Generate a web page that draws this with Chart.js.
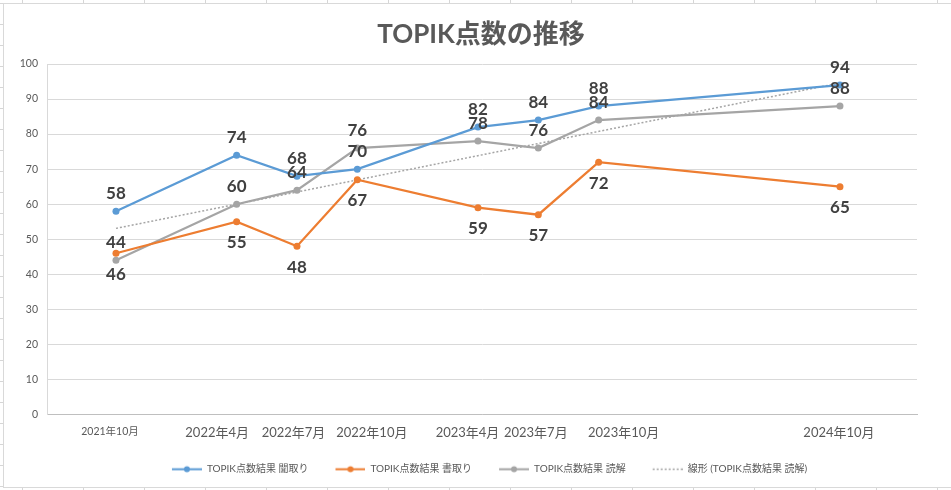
<!DOCTYPE html>
<html>
<head>
<meta charset="utf-8">
<script src="https://cdn.jsdelivr.net/npm/chart.js@4/dist/chart.umd.min.js"></script>
<style>
  html, body { margin: 0; padding: 0; }
  body {
    width: 951px; height: 490px; overflow: hidden; position: relative;
    background-color: #ffffff;
    background-image:
      linear-gradient(to right, #d6d6d6 1px, transparent 1px),
      linear-gradient(to bottom, #d6d6d6 1px, transparent 1px);
    background-size: 61px 21px;
    background-position: 22px 3px;
  }
  #frame {
    position: absolute; left: 3px; top: 3px; width: 1000px; height: 485px;
    box-sizing: border-box; border: 1px solid #d9d9d9; background: #ffffff;
  }
  #wrap { position: absolute; left: 0; top: 0; width: 951px; height: 490px; }
</style>
</head>
<body>
<div id="frame"></div>
<div id="wrap"><canvas id="c"></canvas></div>
<script>
// ---- data ----
const titleText = 'TOPIK点数の推移';
const dateLabels = ['2021年10月', '2022年4月', '2022年7月', '2022年10月', '2023年4月', '2023年7月', '2023年10月', '2024年10月'];
const monthIndex = [0, 6, 9, 12, 18, 21, 24, 36];   // months since 2021年10月
const listening = [58, 74, 68, 70, 82, 84, 88, 94];  // 聞取り
const writing   = [46, 55, 48, 67, 59, 57, 72, 65];  // 書取り
const reading   = [44, 60, 64, 76, 78, 76, 84, 88];  // 読解
const trendMonths = [0, 36];
const trendValues = [53.1, 94.6];                   // 線形 (読解) endpoints
const seriesNames = ['TOPIK点数結果 聞取り', 'TOPIK点数結果 書取り', 'TOPIK点数結果 読解', '線形 (TOPIK点数結果 読解)'];
const yMin = 0, yMax = 100, yStep = 10;

// ---- layout / style ----
const BLUE = '#5B9BD5', ORANGE = '#ED7D31', GRAY = '#A5A5A5';
const FONT = "Lato, 'Noto Sans CJK JP', sans-serif";
const PX_PER_MONTH = 20.11;
// horizontal nudge (px) of each date label, as laid out in the original
const labelNudgePx = [-6, -19.5, -3.5, 14.5, -10.5, -2.5, 25, -1];
const ICON_GAP = 17;   // extra blank space in front of each legend icon

function pts(xs, ys) { return xs.map((x, i) => ({ x: x, y: ys[i] })); }

function legendIcon(color, dotted) {
  const c = document.createElement('canvas');
  c.width = 30 + ICON_GAP; c.height = 9;
  const g = c.getContext('2d');
  g.strokeStyle = color;
  g.lineWidth = dotted ? 1.5 : 2;
  if (dotted) g.setLineDash([2, 2]);
  g.beginPath(); g.moveTo(ICON_GAP, 4.5); g.lineTo(ICON_GAP + 30, 4.5); g.stroke();
  if (!dotted) {
    g.fillStyle = color;
    g.beginPath(); g.arc(ICON_GAP + 15, 4.5, 3, 0, Math.PI * 2); g.fill();
  }
  return c;
}
const icons = [legendIcon(BLUE, false), legendIcon(ORANGE, false), legendIcon(GRAY, false), legendIcon(GRAY, true)];

const dataLabelPlugin = {
  id: 'dataLabels',
  afterDatasetsDraw(chart) {
    const ctx = chart.ctx;
    ctx.save();
    ctx.font = 'bold 17px ' + FONT;
    ctx.fillStyle = '#404040';
    ctx.textAlign = 'center';
    ctx.textBaseline = 'middle';
    chart.data.datasets.forEach((ds, i) => {
      if (!ds.labelPos) return;
      const meta = chart.getDatasetMeta(i);
      meta.data.forEach((el, j) => {
        const v = ds.data[j].y;
        const dy = ds.labelPos === 'above' ? -18 : 21;
        ctx.fillText(String(v), el.x, el.y + dy);
      });
    });
    ctx.restore();
  }
};

Chart.defaults.font.family = FONT;

new Chart(document.getElementById('c'), {
  type: 'line',
  data: {
    datasets: [
      { label: seriesNames[0], data: pts(monthIndex, listening), borderColor: BLUE, backgroundColor: BLUE,
        borderWidth: 2.25, pointRadius: 3.5, pointBorderWidth: 0, labelPos: 'above' },
      { label: seriesNames[1], data: pts(monthIndex, writing), borderColor: ORANGE, backgroundColor: ORANGE,
        borderWidth: 2.25, pointRadius: 3.5, pointBorderWidth: 0, labelPos: 'below' },
      { label: seriesNames[2], data: pts(monthIndex, reading), borderColor: GRAY, backgroundColor: GRAY,
        borderWidth: 2.25, pointRadius: 3.5, pointBorderWidth: 0, labelPos: 'above' },
      { label: seriesNames[3], data: pts(trendMonths, trendValues), borderColor: GRAY, backgroundColor: GRAY,
        borderWidth: 1.5, borderDash: [2, 2], pointRadius: 0 }
    ]
  },
  options: {
    responsive: true,
    maintainAspectRatio: false,
    animation: false,
    layout: { padding: { left: 11, right: 0, top: 0, bottom: 5.75 } },
    scales: {
      x: {
        type: 'linear',
        min: -3.43, max: 39.83,
        afterBuildTicks: (s) => {
          s.ticks = monthIndex.map((v, i) => ({ value: v + labelNudgePx[i] / PX_PER_MONTH }));
        },
        afterFit: (s) => { s.height = 39.75; },
        grid: { display: false, drawTicks: false },
        border: { display: true, color: '#bfbfbf', width: 1 },
        ticks: {
          autoSkip: false, maxRotation: 0, minRotation: 0, padding: 11,
          color: '#595959',
          font: (ctx) => ({ size: ctx.index === 0 ? 10.5 : 13, family: FONT }),
          callback: (v, i) => dateLabels[i]
        }
      },
      y: {
        min: yMin, max: yMax,
        afterFit: (s) => { s.width = 36; },
        grid: { color: '#d9d9d9', lineWidth: 1, drawTicks: false },
        border: { display: true, color: '#d9d9d9', width: 1 },
        ticks: { stepSize: yStep, padding: 9, color: '#595959', font: { size: 10.5 } }
      },
      yRight: {
        position: 'right', display: true, min: 0, max: 1,
        afterFit: (s) => { s.width = 34; },
        grid: { display: false, drawTicks: false },
        border: { display: false },
        ticks: { display: false }
      }
    },
    plugins: {
      title: {
        display: true, text: titleText, color: '#595959',
        font: { size: 26, weight: 'bold', family: FONT },
        padding: { top: 19.5, bottom: 13.3 }
      },
      legend: {
        display: true, position: 'bottom',
        labels: {
          usePointStyle: true, pointStyleWidth: 30 + ICON_GAP, padding: 10,
          color: '#595959', font: { size: 10 },
          generateLabels: (chart) => {
            const items = Chart.defaults.plugins.legend.labels.generateLabels(chart);
            items.forEach((it) => { it.pointStyle = icons[it.datasetIndex]; });
            return items;
          }
        }
      },
      tooltip: { enabled: false }
    }
  },
  plugins: [dataLabelPlugin]
});
</script>
</body>
</html>
